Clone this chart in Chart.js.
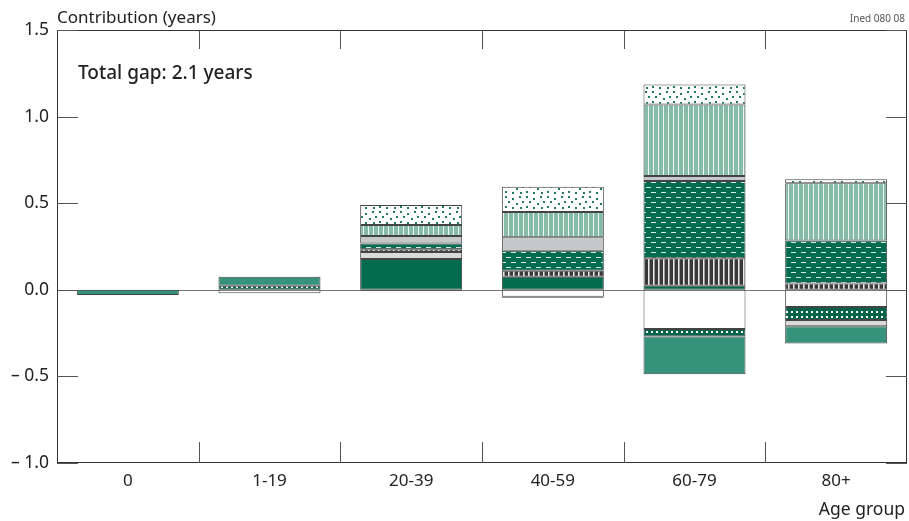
<!DOCTYPE html>
<html>
<head>
<meta charset="utf-8">
<script src="https://cdn.jsdelivr.net/npm/chart.js@4/dist/chart.umd.min.js"></script>
<style>
  html, body { margin: 0; padding: 0; background: #fff; }
  #wrap { width: 909px; height: 521px; position: relative; }
</style>
</head>
<body>
<div id="wrap"><canvas id="chart"></canvas></div>
<script>
// age groups
const ageGroups = ['0', '1-19', '20-39', '40-59', '60-79', '80+'];
const yTicks = [1.5, 1.0, 0.5, 0.0, -0.5, -1.0];

// contributions by component (years), stacked from zero outward
const darkGreen     = [null, null, 0.178, 0.076, 0.024, null];
const whiteBlock    = [null, -0.02, null, -0.04, -0.226, -0.10];
const squaresGreen  = [null, 0.024, -0.005, null, -0.044, -0.075];
const lightGrey     = [null, null, 0.04, null, null, -0.035];
const blackStripes  = [null, null, 0.016, 0.034, 0.158, 0.037];
const dashedGreen   = [null, null, 0.034, 0.116, 0.446, 0.247];
const midGrey       = [null, null, 0.042, 0.077, 0.029, null];
const stripedGreen  = [null, null, 0.064, 0.146, 0.413, 0.331];
const dottedWhite   = [null, null, 0.116, 0.146, 0.116, 0.023];
const mediumGreen   = [-0.03, 0.052, null, -0.006, -0.218, -0.10];

function makePattern(w, h, draw) {
    const c = document.createElement('canvas');
    c.width = w; c.height = h;
    const g = c.getContext('2d');
    draw(g);
    return g.createPattern(c, 'repeat');
}

const patDots = makePattern(21, 15, g => {
    g.fillStyle = '#fff'; g.fillRect(0, 0, 21, 15);
    g.fillStyle = '#1f7a5e';
    [[1,1],[8,3],[15,1],[4,6],[12,8],[18,6],[1,11],[8,12],[16,12]].forEach(p => g.fillRect(p[0], p[1], 2, 2));
});
const patStripesGreen = makePattern(5, 1, g => {
    g.fillStyle = '#86bca7'; g.fillRect(0, 0, 5, 1);
    g.fillStyle = '#f2f8f5'; g.fillRect(3, 0, 1, 1);
});
const patDashes = makePattern(10, 10, g => {
    g.fillStyle = '#006b4f'; g.fillRect(0, 0, 10, 10);
    g.fillStyle = '#d6e9e1';
    g.fillRect(1, 2, 5, 1);
    g.fillRect(6, 7, 4, 1); g.fillRect(0, 7, 1, 1);
});
const patBlack = makePattern(5, 1, g => {
    g.fillStyle = '#383838'; g.fillRect(0, 0, 5, 1);
    g.fillStyle = '#e8e8e8'; g.fillRect(3, 0, 1, 1);
    g.fillStyle = '#9a9a9a'; g.fillRect(4, 0, 1, 1);
});
const patSquares = makePattern(5, 5, g => {
    g.fillStyle = '#00634a'; g.fillRect(0, 0, 5, 5);
    g.fillStyle = '#ffffff'; g.fillRect(1, 1, 2, 2);
});

const series = [
    { data: darkGreen, fill: '#006b4f' },
    { data: whiteBlock, fill: '#ffffff' },
    { data: squaresGreen, fill: patSquares },
    { data: lightGrey, fill: '#dadada' },
    { data: blackStripes, fill: patBlack },
    { data: dashedGreen, fill: patDashes },
    { data: midGrey, fill: '#c6c7c8' },
    { data: stripedGreen, fill: patStripesGreen },
    { data: dottedWhite, fill: patDots },
    { data: mediumGreen, fill: '#36937b' }
];

const FONT = '"Noto Sans", "Open Sans", sans-serif';

const framePlugin = {
    id: 'frame',
    beforeDatasetsDraw(chart) {
        const { ctx, chartArea: a, scales: { y } } = chart;
        const y0 = Math.round(y.getPixelForValue(0)) + 0.5;
        ctx.save();
        ctx.strokeStyle = '#777';
        ctx.lineWidth = 1;
        ctx.beginPath();
        ctx.moveTo(a.left, y0); ctx.lineTo(a.right, y0);
        ctx.stroke();
        ctx.restore();
    },
    afterDatasetsDraw(chart) {
        const { ctx, chartArea: a, scales: { x, y } } = chart;
        ctx.save();
        ctx.strokeStyle = '#333';
        ctx.lineWidth = 1;
        ctx.strokeRect(Math.round(a.left) + 0.5, Math.round(a.top) + 0.5,
                       Math.round(a.right - a.left) - 1, Math.round(a.bottom - a.top) - 1);

        ctx.strokeStyle = '#555';
        ctx.beginPath();
        yTicks.forEach(v => {
            const py = Math.round(y.getPixelForValue(v)) + 0.5;
            ctx.moveTo(a.left, py); ctx.lineTo(a.left + 21, py);
            ctx.moveTo(a.right, py); ctx.lineTo(a.right - 21, py);
        });
        for (let i = 1; i < ageGroups.length; i++) {
            const px = Math.round((x.getPixelForValue(i - 1) + x.getPixelForValue(i)) / 2) + 0.5;
            ctx.moveTo(px, a.top); ctx.lineTo(px, a.top + 19);
            ctx.moveTo(px, a.bottom); ctx.lineTo(px, a.bottom - 21);
        }
        ctx.stroke();

        ctx.fillStyle = '#222';
        ctx.textBaseline = 'alphabetic';
        ctx.font = '17px ' + FONT;
        ctx.textAlign = 'left';
        ctx.fillText('Contribution (years)', a.left, 23);
        ctx.font = '500 19px ' + FONT;
        ctx.fillText('Total gap: 2.1 years', a.left + 21, 79);
        ctx.font = '17.5px ' + FONT;
        ctx.textAlign = 'right';
        ctx.fillText('Age group', 905, 515);
        ctx.font = '10px ' + FONT;
        ctx.fillStyle = '#555';
        ctx.fillText('Ined 080 08', 905, 22);
        ctx.restore();
    }
};

new Chart(document.getElementById('chart'), {
    type: 'bar',
    data: {
        labels: ageGroups,
        datasets: series.map(s => ({
            data: s.data,
            backgroundColor: s.fill,
            borderColor: '#444',
            borderWidth: 1,
            borderSkipped: false,
            categoryPercentage: 0.72,
            barPercentage: 1
        }))
    },
    options: {
        responsive: true,
        maintainAspectRatio: false,
        animation: false,
        layout: { padding: { left: 0, top: 30, right: 2, bottom: 0 } },
        plugins: { legend: { display: false }, tooltip: { enabled: false } },
        scales: {
            x: {
                stacked: true,
                grid: { display: false, drawTicks: false },
                border: { display: false },
                ticks: { font: { family: FONT, size: 17 }, color: '#222', padding: 8 },
                afterFit(s) { s.height = 58; }
            },
            y: {
                stacked: true,
                min: -1.0,
                max: 1.5,
                grid: { display: false, drawTicks: false },
                border: { display: false },
                afterBuildTicks(s) { s.ticks = yTicks.map(v => ({ value: v })); },
                ticks: {
                    font: { family: FONT, size: 17.5 },
                    color: '#222',
                    padding: 8,
                    callback: v => v < 0 ? '\u2013 ' + Math.abs(v).toFixed(1) : v.toFixed(1)
                },
                afterFit(s) { s.width = 57; }
            }
        }
    },
    plugins: [framePlugin]
});
</script>
</body>
</html>
